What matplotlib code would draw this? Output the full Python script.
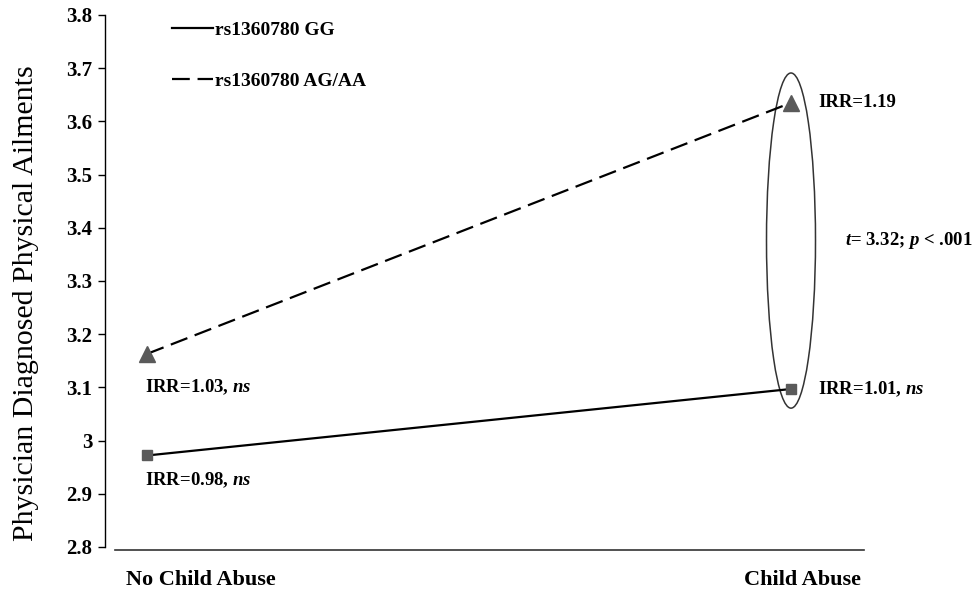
import matplotlib
matplotlib.use("Agg")
import matplotlib.pyplot as plt
from matplotlib.patches import Ellipse

# data
categories = ["No Child Abuse", "Child Abuse"]
gg_vals = [2.972, 3.097]
ag_vals = [3.163, 3.635]
series_names = ["rs1360780 GG", "rs1360780 AG/AA"]
gg_notes = ["IRR=0.98, $ns$", "IRR=1.01, $ns$"]
ag_notes = ["IRR=1.03, $ns$", "IRR=1.19"]
stat_note = "$t$= 3.32; $p$ < .001"
yticks = [2.8, 2.9, 3.0, 3.1, 3.2, 3.3, 3.4, 3.5, 3.6, 3.7, 3.8]

plt.rcParams["font.family"] = "Liberation Serif"
plt.rcParams["mathtext.fontset"] = "custom"
plt.rcParams["mathtext.it"] = "Liberation Serif:italic:bold"
plt.rcParams["mathtext.rm"] = "Liberation Serif:bold"

W, H = 973, 592
fig = plt.figure(figsize=(W / 100, H / 100), dpi=100)
ax_l, ax_r, ax_t, ax_b = 105, 864, 15, 547
ax = fig.add_axes([ax_l / W, 1 - ax_b / H, (ax_r - ax_l) / W, (ax_b - ax_t) / H])

x = [0, 1]
marker_col = "#5a5a5a"
ax.plot(x, gg_vals, color="black", lw=1.6, marker="s", ms=7,
        mfc=marker_col, mec=marker_col, label=series_names[0], zorder=3)
ax.plot(x, ag_vals, color="black", lw=1.6, dashes=(8, 3.5), marker="^", ms=11,
        mfc=marker_col, mec=marker_col, label=series_names[1], zorder=3)

ax.set_xlim(-42 / 644, (ax_r - 147) / 644)
ax.set_ylim(2.8, 3.8)
ax.set_yticks(yticks)
ax.set_yticklabels(["%g" % v for v in yticks], fontsize=15, fontweight="bold")
ax.set_xticks([])
ax.tick_params(axis="y", direction="out", length=5, width=1, pad=4)

for s in ["top", "right"]:
    ax.spines[s].set_visible(False)
ax.spines["left"].set_linewidth(1)
ax.spines["bottom"].set_position(("outward", 2))
ax.spines["bottom"].set_bounds(-32 / 644, (ax_r - 147) / 644)
ax.spines["bottom"].set_linewidth(1.2)
ax.spines["bottom"].set_color("#333333")

ax.set_ylabel("Physician Diagnosed Physical Ailments", fontsize=21.5)
ax.yaxis.set_label_coords((39 - ax_l) / (ax_r - ax_l), (547 - 303) / 532)

# category labels
for xi, cat, dx in zip(x, categories, [54, 12]):
    ax.annotate(cat, (xi, 2.8), xytext=(dx * 0.72, -33 * 0.72), textcoords="offset points",
                ha="center", va="center", fontsize=16, fontweight="bold", annotation_clip=False)

# notes at points
note_kw = dict(textcoords="offset points", fontsize=13.5, fontweight="bold",
               va="center", annotation_clip=False)
ax.annotate(gg_notes[0], (x[0], gg_vals[0]), xytext=(-2 * 0.72, -25 * 0.72), ha="left", **note_kw)
ax.annotate(ag_notes[0], (x[0], ag_vals[0]), xytext=(-2 * 0.72, -33 * 0.72), ha="left", **note_kw)
ax.annotate(gg_notes[1], (x[1], gg_vals[1]), xytext=(27 * 0.72, 0), ha="left", **note_kw)
ax.annotate(ag_notes[1], (x[1], ag_vals[1]), xytext=(27 * 0.72, 0), ha="left", **note_kw)

# ellipse around child abuse points
ell = Ellipse((1, 3.376), width=49 / 644, height=0.63, fill=False,
              edgecolor="#333333", lw=1.1, zorder=2)
ax.add_patch(ell)
ax.annotate(stat_note, (1, 3.376), xytext=(54 * 0.72, 0), textcoords="offset points",
            ha="left", va="center", fontsize=13.5, fontweight="bold", annotation_clip=False)

leg = ax.legend(loc="upper left", bbox_to_anchor=((172 - ax_l) / (ax_r - ax_l), 0.988),
                frameon=False, handlelength=2.1, handletextpad=0.1, labelspacing=1.7,
                borderpad=0, borderaxespad=0, prop={"family": "Liberation Serif",
                                                     "weight": "bold", "size": 14})
for line in leg.get_lines():
    line.set_marker("")

fig.savefig("out.png", dpi=100)
